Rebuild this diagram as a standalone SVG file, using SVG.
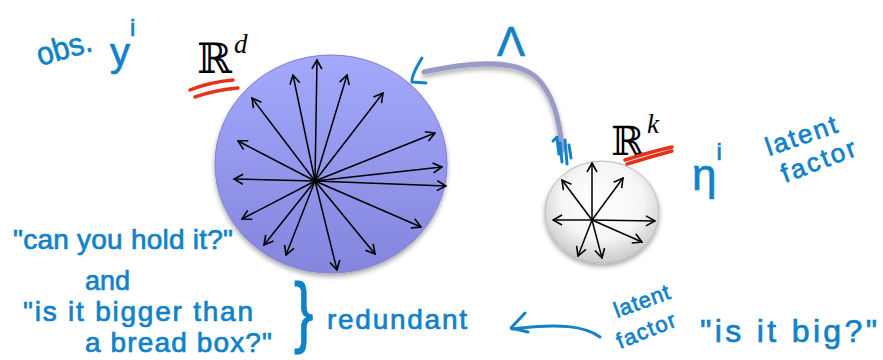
<svg xmlns="http://www.w3.org/2000/svg" width="883" height="360" viewBox="0 0 883 360">
<style>
.hw{font-family:"Liberation Sans","DejaVu Sans",sans-serif;fill:#1282c8;stroke:#1282c8;stroke-width:0.7;}
.ink{fill:none;stroke:#1282c8;stroke-width:3;stroke-linecap:round;stroke-linejoin:round;}
.red{fill:none;stroke:#e5321b;stroke-width:3.5;stroke-linecap:round;}
.vec{stroke:#000;stroke-width:1.5;fill:none;marker-end:url(#ah);}
.bb{font-family:"DejaVu Serif","DejaVu Sans",serif;fill:#000;}
.sup{font-family:"Liberation Serif","DejaVu Serif",serif;font-style:italic;fill:#000;}
</style>
<defs>
<marker id="ah" viewBox="0 0 12 12" refX="10.5" refY="6" markerWidth="12" markerHeight="12" markerUnits="userSpaceOnUse" orient="auto">
<path d="M1.5,1 L10.5,6 L1.5,11" fill="none" stroke="#000" stroke-width="1.6" stroke-linejoin="miter"/>
</marker>
<linearGradient id="gBlue" x1="0" y1="0" x2="0" y2="1">
<stop offset="0" stop-color="#a4a9fb"/>
<stop offset="1" stop-color="#8485dd"/>
</linearGradient>
<radialGradient id="gWhite" cx="0.5" cy="0.4" r="0.6">
<stop offset="0" stop-color="#ffffff"/>
<stop offset="0.6" stop-color="#f6f6f6"/>
<stop offset="1" stop-color="#c9c9c9"/>
</radialGradient>
<filter id="sh" x="-20%" y="-20%" width="140%" height="140%">
<feGaussianBlur in="SourceAlpha" stdDeviation="2.5"/>
<feOffset dx="0" dy="3" result="b"/>
<feComponentTransfer><feFuncA type="linear" slope="0.35"/></feComponentTransfer>
<feMerge><feMergeNode/><feMergeNode in="SourceGraphic"/></feMerge>
</filter>
</defs>
<rect width="883" height="360" fill="#fff"/>

<g id="connectors">
<path d="M424,72 C470,62 515,58 537,78 C553,94 560,120 562,150" fill="none" stroke="#9a9ac9" stroke-width="5" stroke-linecap="round" filter="url(#sh)"/>
<path class="ink" d="M422,58 Q411,76 412,82 L426,83"/>
<path class="ink" d="M553,141 L557,137 L559,154 M560,143 L562,162 M565,140 L567,164 M569,145 L571,158"/>
</g>

<g id="space-d">
<ellipse cx="331" cy="164" rx="116" ry="109" fill="url(#gBlue)" stroke="#7f80d2" stroke-width="1" filter="url(#sh)"/>
<g>
<line class="vec" x1="315" y1="181" x2="317" y2="60"/>
<line class="vec" x1="315" y1="181" x2="293" y2="75"/>
<line class="vec" x1="315" y1="181" x2="347" y2="75"/>
<line class="vec" x1="315" y1="181" x2="252" y2="98"/>
<line class="vec" x1="315" y1="181" x2="383" y2="93"/>
<line class="vec" x1="315" y1="181" x2="238" y2="141"/>
<line class="vec" x1="315" y1="181" x2="435" y2="133"/>
<line class="vec" x1="315" y1="181" x2="234" y2="179"/>
<line class="vec" x1="315" y1="181" x2="442" y2="167"/>
<line class="vec" x1="315" y1="181" x2="446" y2="186"/>
<line class="vec" x1="315" y1="181" x2="242" y2="219"/>
<line class="vec" x1="315" y1="181" x2="421" y2="227"/>
<line class="vec" x1="315" y1="181" x2="264" y2="245"/>
<line class="vec" x1="315" y1="181" x2="286" y2="255"/>
<line class="vec" x1="315" y1="181" x2="337" y2="270"/>
<line class="vec" x1="315" y1="181" x2="375" y2="254"/>
</g>
<text class="bb" x="197" y="73" font-size="42">ℝ</text>
<text class="sup" x="234" y="53" font-size="27">d</text>
<path class="red" d="M190,90 Q210,82 233,80 M195,97 Q215,90 238,88"/>
</g>

<g id="space-k">
<ellipse cx="602" cy="212" rx="57" ry="51" fill="url(#gWhite)" stroke="#bdbdbd" stroke-width="1" filter="url(#sh)"/>
<g>
<line class="vec" x1="592" y1="220" x2="592" y2="163"/>
<line class="vec" x1="592" y1="220" x2="562" y2="180"/>
<line class="vec" x1="592" y1="220" x2="623" y2="178"/>
<line class="vec" x1="592" y1="220" x2="553" y2="220"/>
<line class="vec" x1="592" y1="220" x2="655" y2="221"/>
<line class="vec" x1="592" y1="220" x2="642" y2="242"/>
<line class="vec" x1="592" y1="220" x2="578" y2="256"/>
<line class="vec" x1="592" y1="220" x2="602" y2="258"/>
</g>
<text class="bb" x="611" y="155" font-size="40">ℝ</text>
<text class="sup" x="647" y="133" font-size="27">k</text>
<path class="red" d="M625,160 Q650,152 672,147 M627,164 Q650,157 672,151"/>
</g>

<g id="annotations">
<text class="hw" x="40" y="66" font-size="32" textLength="56" lengthAdjust="spacingAndGlyphs" transform="rotate(-16 40 66)">obs.</text>
<text class="hw" x="110" y="66" font-size="40">y<tspan font-size="24" dy="-30">i</tspan></text>
<text class="hw" x="511" y="56" font-size="42" text-anchor="middle">Λ</text>
<text class="hw" x="692" y="190" font-size="44">η<tspan font-size="24" dy="-30">i</tspan></text>
<text class="hw" x="769" y="156" font-size="26" textLength="74" lengthAdjust="spacing" transform="rotate(-19 769 156)">latent</text>
<text class="hw" x="785" y="183" font-size="26" textLength="78" lengthAdjust="spacing" transform="rotate(-21 785 183)">factor</text>

<text class="hw" x="13" y="249" font-size="28" textLength="220" lengthAdjust="spacing">"can you hold it?"</text>
<text class="hw" x="85" y="290" font-size="27">and</text>
<text class="hw" x="23" y="321" font-size="28" textLength="230" lengthAdjust="spacing">"is it bigger than</text>
<text class="hw" x="85" y="352" font-size="28" textLength="187" lengthAdjust="spacing">a bread box?"</text>
<text class="hw" x="0" y="0" font-size="58" transform="translate(294 338) scale(1 1.35)">}</text>
<text class="hw" x="327" y="329" font-size="28" textLength="140" lengthAdjust="spacing">redundant</text>

<path class="ink" d="M600,337 C585,326 560,323 512,329 M525,313 L511,328 L528,332"/>
<text class="hw" x="617" y="318" font-size="22" textLength="58" lengthAdjust="spacing" transform="rotate(-20 617 318)">latent</text>
<text class="hw" x="620" y="349" font-size="22" textLength="62" lengthAdjust="spacing" transform="rotate(-22 620 349)">factor</text>
<text class="hw" x="700" y="342" font-size="32" textLength="177" lengthAdjust="spacing">"is it big?"</text>
</g>
</svg>
